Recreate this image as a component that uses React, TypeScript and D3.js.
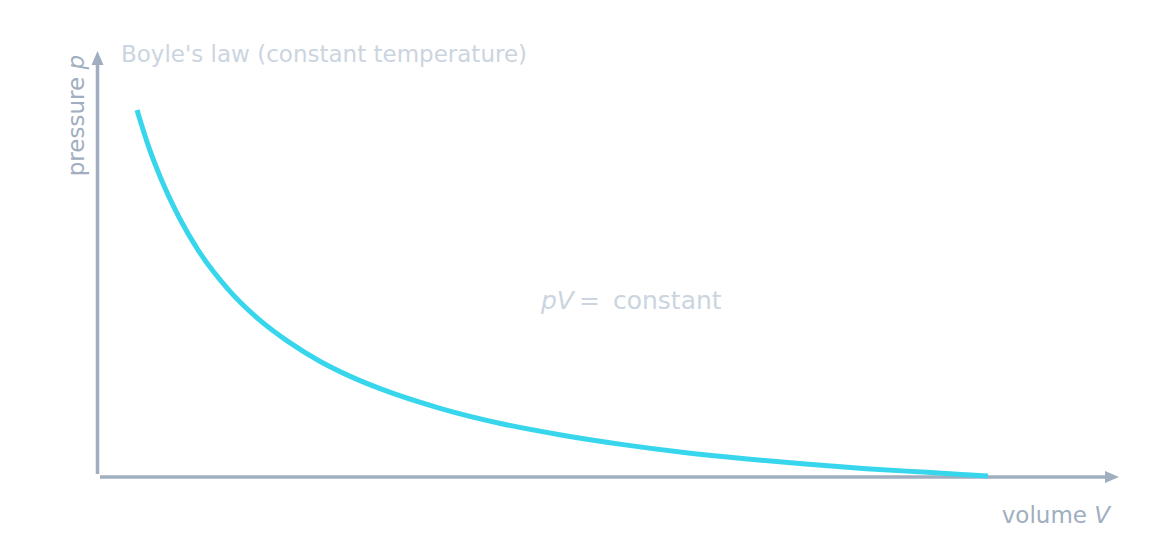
import React from "react";
import * as d3 from "d3";

const volume = [1, 1.1, 1.2, 1.35, 1.5, 1.75, 2, 2.25, 2.5, 2.75, 3, 3.5, 4, 4.5, 5, 5.5, 6, 6.5, 7, 7.5, 8];
const pressure = [8, 7.27, 6.67, 5.93, 5.33, 4.57, 4, 3.56, 3.2, 2.91, 2.67, 2.29, 2, 1.78, 1.6, 1.45, 1.33, 1.23, 1.14, 1.07, 1];

const title = "Boyle's law (constant temperature)";
const yLabel = "pressure";
const yVar = "p";
const xLabel = "volume";
const xVar = "V";

const W = 1176;
const H = 546;
const axisColor = "#a0aec0";
const faint = "#cbd5e0";
const curveColor = "#38d6ec";
const font = "'DejaVu Sans', sans-serif";

export default function App() {
  const x = d3.scaleLinear().domain([1, 8]).range([137, 988]);
  const y = d3.scaleLinear().domain([1, 8]).range([476, 110]);
  const pts = volume.map((v, i) => [v, pressure[i]] as [number, number]);
  const line = d3
    .line<[number, number]>()
    .x((d) => x(d[0]))
    .y((d) => y(d[1]))
    .curve(d3.curveMonotoneX);

  return (
    <svg
      width={W}
      height={H}
      style={{ position: "absolute", left: 0, top: 0, display: "block", background: "#fff" }}
      fontFamily={font}
    >
      {/* y axis */}
      <line x1={97.5} y1={474} x2={97.5} y2={60} stroke={axisColor} strokeWidth={3.5} />
      <path d="M97.5,51 L103.5,65 L91.5,65 Z" fill={axisColor} />
      {/* x axis */}
      <line x1={100} y1={477} x2={1110} y2={477} stroke={axisColor} strokeWidth={3.5} />
      <path d="M1119,477 L1105,471 L1105,483 Z" fill={axisColor} />

      <path d={line(pts) || ""} fill="none" stroke={curveColor} strokeWidth={5} />

      <text x={121} y={62} fontSize={23} fill={faint}>
        {title}
      </text>

      <text transform="translate(84,55) rotate(-90)" fontSize={23} fill={axisColor} textAnchor="end">
        {yLabel + " "}
        <tspan fontStyle="italic">{yVar}</tspan>
      </text>

      <text x={1110} y={523} fontSize={23} fill={axisColor} textAnchor="end">
        {xLabel + " "}
        <tspan fontStyle="italic">{xVar}</tspan>
      </text>

      <text x={541} y={309} fontSize={25} fill={faint}>
        <tspan fontStyle="italic">pV</tspan>
        <tspan dx={5}>=</tspan>
        <tspan dx={13}>constant</tspan>
      </text>
    </svg>
  );
}
